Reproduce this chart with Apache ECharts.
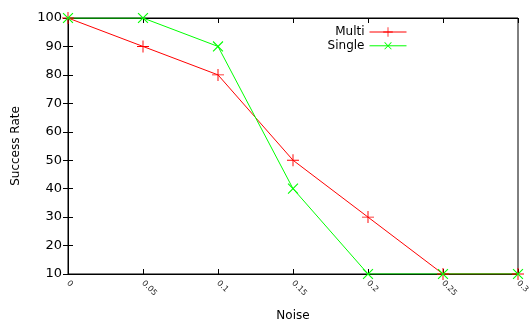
<!DOCTYPE html>
<html>
<head>
<meta charset="utf-8">
<script src="https://cdn.jsdelivr.net/npm/echarts@6/dist/echarts.min.js"></script>
<style>
html, body { margin: 0; padding: 0; background: #fff; }
#chart { width: 529px; height: 320px; }
</style>
</head>
<body>
<div id="chart"></div>
<script>
var noise = [0, 0.05, 0.1, 0.15, 0.2, 0.25, 0.3];
var multi = [100, 90, 80, 50, 30, 10, 10];
var single = [100, 100, 90, 40, 10, 10, 10];

var font = "DejaVu Sans";
var plus = "path://M0,4.6H10V5.4H0Z M4.6,0H5.4V10H4.6Z";

function pairs(ys) {
    return noise.map(function(x, i) { return [x, ys[i]]; });
}

var chart = echarts.init(document.getElementById("chart"));
chart.setOption({
    animation: false,
    textStyle: { fontFamily: font },
    grid: {
        left: 68, right: 11, top: 18, bottom: 46,
        outerBoundsMode: "none", containLabel: false,
        show: true, borderColor: "#000", borderWidth: 1
    },
    legend: {
        right: 117,
        top: 21,
        orient: "vertical",
        align: "right",
        itemWidth: 37,
        itemHeight: 12,
        itemGap: 1,
        lineStyle: { width: 1 },
        textStyle: { fontFamily: font, fontSize: 12, color: "#000" },
        data: ["Multi", "Single"]
    },
    xAxis: [{
        type: "value",
        min: 0,
        max: 0.3,
        interval: 0.05,
        name: "Noise",
        nameLocation: "middle",
        nameGap: 36,
        nameTextStyle: { fontFamily: font, fontSize: 12, color: "#000" },
        axisLine: { lineStyle: { color: "#000" } },
        axisTick: { inside: true, length: 5, lineStyle: { color: "#000" } },
        splitLine: { show: false },
        axisLabel: {
            rotate: -45,
            fontSize: 8,
            color: "#222",
            margin: 8,
            formatter: function(v) { return String(+v.toFixed(2)); }
        }
    }, {
        type: "value",
        position: "top",
        min: 0,
        max: 0.3,
        interval: 0.05,
        axisLine: { lineStyle: { color: "#000" } },
        axisTick: { inside: true, length: 5, lineStyle: { color: "#000" } },
        axisLabel: { show: false },
        splitLine: { show: false }
    }],
    yAxis: [{
        type: "value",
        min: 10,
        max: 100,
        interval: 10,
        name: "Success Rate",
        nameLocation: "middle",
        nameGap: 46,
        nameTextStyle: { fontFamily: font, fontSize: 12, color: "#000" },
        axisLine: { show: true, lineStyle: { color: "#000" } },
        axisTick: { show: true, inside: true, length: 5, lineStyle: { color: "#000" } },
        splitLine: { show: false },
        axisLabel: { fontSize: 13, color: "#000", margin: 6 }
    }, {
        type: "value",
        position: "right",
        min: 10,
        max: 100,
        interval: 10,
        axisLine: { show: true, lineStyle: { color: "#000" } },
        axisTick: { show: true, inside: true, length: 5, lineStyle: { color: "#000" } },
        axisLabel: { show: false },
        splitLine: { show: false }
    }],
    series: [{
        name: "Multi",
        type: "line",
        data: pairs(multi),
        symbol: plus,
        symbolSize: 12,
        showAllSymbol: true,
        lineStyle: { color: "#ff0000", width: 1 },
        itemStyle: { color: "#ff0000" }
    }, {
        name: "Single",
        type: "line",
        data: pairs(single),
        symbol: plus,
        symbolSize: 14,
        symbolRotate: 45,
        showAllSymbol: true,
        lineStyle: { color: "#00ff00", width: 1 },
        itemStyle: { color: "#00ff00" }
    }]
});
</script>
</body>
</html>
